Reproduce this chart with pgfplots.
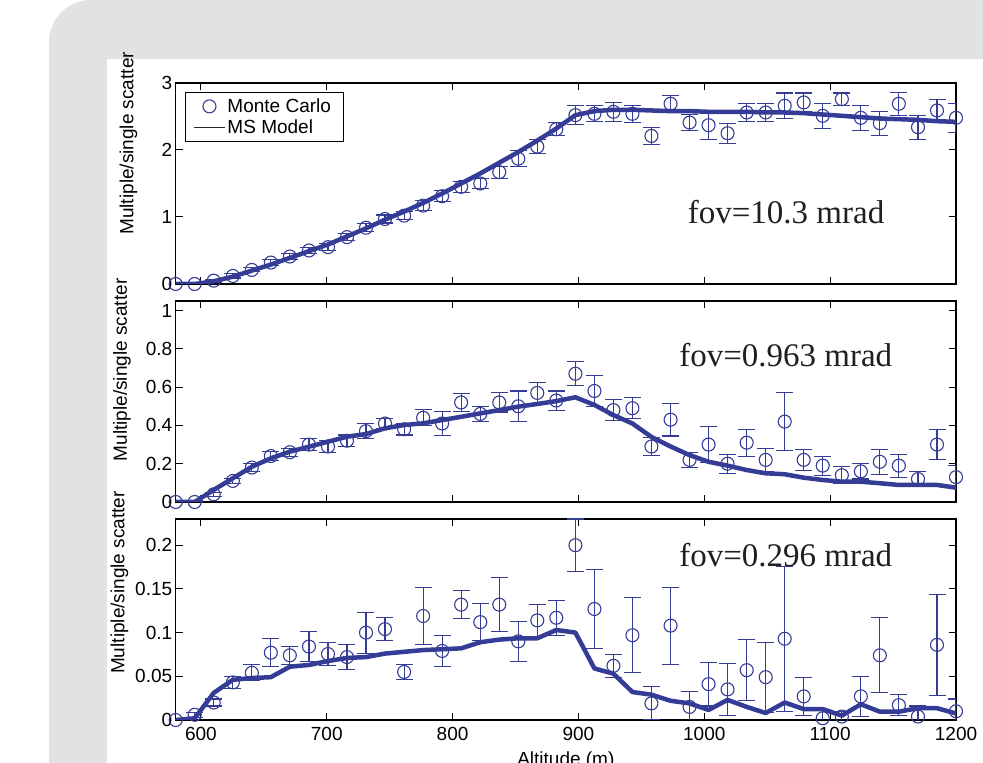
\documentclass[border=0pt]{standalone}
\usepackage{fontspec}
\setmainfont{Liberation Sans}
\newfontfamily\timesfont{Liberation Serif}
\usepackage{pgfplots}
\usepackage{pgfplotstable}
\pgfplotsset{compat=1.18}
\definecolor{msblue}{RGB}{52,60,150}
\definecolor{bggray}{RGB}{225,226,228}
\definecolor{fovtext}{RGB}{35,31,32}

\pgfplotstableread{
x y ey m
580.0 0 0 0
595.1 0 0.01 0
610.2 0.05 0.02 0.04
625.4 0.12 0.03 0.11
640.5 0.21 0.03 0.20
655.6 0.32 0.04 0.29
670.7 0.41 0.04 0.39
685.9 0.50 0.04 0.49
701.0 0.55 0.05 0.59
716.1 0.70 0.05 0.71
731.2 0.84 0.06 0.83
746.3 0.97 0.06 0.96
761.5 1.02 0.06 1.08
776.6 1.17 0.07 1.21
791.7 1.31 0.08 1.35
806.8 1.45 0.08 1.50
822.0 1.50 0.07 1.65
837.1 1.67 0.09 1.81
852.2 1.87 0.12 1.97
867.3 2.05 0.10 2.14
882.4 2.31 0.10 2.32
897.6 2.52 0.14 2.52
912.7 2.54 0.12 2.58
927.8 2.57 0.14 2.60
942.9 2.54 0.13 2.60
958.0 2.21 0.13 2.59
973.2 2.69 0.13 2.58
988.3 2.41 0.12 2.58
1003.4 2.37 0.22 2.57
1018.5 2.25 0.15 2.57
1033.7 2.56 0.14 2.57
1048.8 2.56 0.14 2.56
1063.9 2.66 0.19 2.56
1079.0 2.71 0.14 2.55
1094.1 2.51 0.19 2.53
1109.3 2.76 0.09 2.51
1124.4 2.48 0.19 2.49
1139.5 2.40 0.18 2.47
1154.6 2.69 0.17 2.46
1169.8 2.34 0.18 2.45
1184.9 2.59 0.17 2.43
1200.0 2.48 0.22 2.42
}\topdata

\pgfplotstableread{
x y ey m
580.0 0 0 0
595.1 0 0.005 0
610.2 0.04 0.01 0.063
625.4 0.11 0.013 0.124
640.5 0.18 0.02 0.184
655.6 0.24 0.025 0.228
670.7 0.26 0.02 0.263
685.9 0.30 0.03 0.289
701.0 0.29 0.03 0.315
716.1 0.32 0.03 0.341
731.2 0.37 0.04 0.355
746.3 0.41 0.026 0.385
761.5 0.38 0.03 0.402
776.6 0.44 0.042 0.411
791.7 0.41 0.063 0.428
806.8 0.52 0.045 0.445
822.0 0.46 0.04 0.463
837.1 0.52 0.05 0.480
852.2 0.50 0.08 0.498
867.3 0.57 0.055 0.512
882.4 0.53 0.05 0.527
897.6 0.67 0.063 0.547
912.7 0.58 0.08 0.507
927.8 0.48 0.055 0.454
942.9 0.49 0.055 0.410
958.0 0.29 0.045 0.340
973.2 0.43 0.085 0.290
988.3 0.22 0.04 0.245
1003.4 0.30 0.095 0.210
1018.5 0.20 0.05 0.190
1033.7 0.31 0.07 0.167
1048.8 0.22 0.06 0.150
1063.9 0.42 0.15 0.145
1079.0 0.22 0.055 0.127
1094.1 0.19 0.05 0.115
1109.3 0.14 0.045 0.106
1124.4 0.16 0.04 0.106
1139.5 0.21 0.065 0.098
1154.6 0.19 0.06 0.089
1169.8 0.12 0.04 0.089
1184.9 0.30 0.08 0.089
1200.0 0.13 0.06 0.075
}\middata

\pgfplotstableread{
x y ey m
580.0 0 0 0
595.1 0.006 0.003 0.002
610.2 0.020 0.004 0.031
625.4 0.043 0.0065 0.046
640.5 0.054 0.009 0.048
655.6 0.077 0.016 0.049
670.7 0.074 0.010 0.061
685.9 0.084 0.0175 0.063
701.0 0.0755 0.013 0.0675
716.1 0.072 0.014 0.071
731.2 0.100 0.0235 0.072
746.3 0.104 0.013 0.076
761.5 0.055 0.009 0.078
776.6 0.119 0.033 0.080
791.7 0.079 0.018 0.081
806.8 0.132 0.016 0.082
822.0 0.112 0.021 0.089
837.1 0.132 0.031 0.092
852.2 0.090 0.023 0.0935
867.3 0.114 0.018 0.0935
882.4 0.117 0.020 0.103
897.6 0.200 0.03 0.100
912.7 0.127 0.045 0.059
927.8 0.062 0.013 0.053
942.9 0.097 0.043 0.032
958.0 0.019 0.019 0.029
973.2 0.108 0.044 0.022
988.3 0.015 0.018 0.019
1003.4 0.041 0.025 0.0115
1018.5 0.035 0.030 0.023
1033.7 0.057 0.035 0.015
1048.8 0.049 0.040 0.008
1063.9 0.093 0.083 0.020
1079.0 0.027 0.022 0.0125
1094.1 0.002 0.010 0.0125
1109.3 0.004 0.006 0.005
1124.4 0.027 0.023 0.018
1139.5 0.074 0.043 0.0095
1154.6 0.017 0.012 0.0095
1169.8 0.004 0.012 0.0135
1184.9 0.086 0.058 0.0135
1200.0 0.010 0.014 0.0075
}\botdata

\pgfplotsset{
  panel/.style={
    scale only axis, width=780.3pt, height=201pt,
    xmin=580, xmax=1200, xtick={600,700,800,900,1000,1100,1200},
    tick align=inside, tick pos=both, major tick length=7pt,
    axis line style={line width=1.2pt},
    every tick/.style={black, line width=1pt},
    clip mode=individual,
    tick label style={font=\fontsize{19}{21}\selectfont},
    /pgf/number format/assume math mode=true,
    /pgf/number format/1000 sep={},
    yticklabel style={/pgf/number format/fixed},
    xticklabel style={yshift=-4pt},
    label style={font=\fontsize{19}{21}\selectfont},
    ylabel={Multiple/single scatter},
  },
  mc/.style={only marks, mark=o, color=msblue, mark size=6.5pt,
    mark options={line width=1.1pt},
    error bars/y dir=both, error bars/y explicit,
    error bars/error bar style={line width=1.1pt, msblue},
    error bars/error mark options={msblue, line width=1.1pt, mark size=8.5pt, rotate=90}},
  model/.style={msblue, line width=4.5pt, line join=round, no marks},
}

\begin{document}
\begin{tikzpicture}
\useasboundingbox (0pt,0pt) rectangle (983pt,763pt);
\clip (0pt,0pt) rectangle (983pt,763pt);
\fill[bggray, rounded corners=42pt] (49pt,-60pt) -- (49pt,763pt) -- (1050pt,763pt) -- (1050pt,-60pt) -- cycle;
\fill[white] (107pt,-10pt) rectangle (1000pt,704pt);

% top panel
\begin{axis}[panel, at={(175.7pt,479pt)}, anchor=south west,
  ymin=0, ymax=3, ytick={0,1,2,3}, xticklabels={},
  ylabel style={at={(axis description cs:-0.0605,0.70)}, anchor=center, rotate=0},
  legend style={at={(axis description cs:0.0119,0.954)}, anchor=north west,
    draw=black, line width=1pt, fill=white,
    font=\fontsize{19}{21}\selectfont, legend cell align=left,
    inner xsep=8pt, inner ysep=4pt, row sep=2pt},
]
\addlegendimage{legend image code/.code={\draw[msblue, line width=1.1pt] (15.5pt,0pt) circle (6.5pt);\path (0pt,0pt) (31pt,0pt);}}
\addlegendimage{legend image code/.code={\draw[black!85, line width=0.9pt] (0pt,0pt) -- (31pt,0pt);}}
\addplot[forget plot, mc] table[x=x, y=y, y error=ey] {\topdata};
\addplot[forget plot, model] table[x=x, y=m] {\topdata};
\node[anchor=base west, font=\timesfont\fontsize{33}{35}\selectfont, text=fovtext, inner sep=0pt] at (axis cs:986.8,0.91) {fov=10.3 mrad};
\legend{Monte Carlo\hspace*{3pt}, MS Model}
\end{axis}

% middle panel
\begin{axis}[panel, at={(175.7pt,261pt)}, anchor=south west,
  ymin=0, ymax=1.05, ytick={0,0.2,0.4,0.6,0.8,1}, xticklabels={},
  ylabel style={at={(axis description cs:-0.069,0.657)}, anchor=center, rotate=0},
]
\addplot[mc] table[x=x, y=y, y error=ey] {\middata};
\addplot[model] table[x=x, y=m] {\middata};
\node[anchor=base west, font=\timesfont\fontsize{33}{35}\selectfont, text=fovtext, inner sep=0pt] at (axis cs:980,0.707) {fov=0.963 mrad};
\end{axis}

% bottom panel
\begin{axis}[panel, at={(175.7pt,43pt)}, anchor=south west,
  ymin=0, ymax=0.23, ytick={0,0.05,0.1,0.15,0.2},
  ylabel style={at={(axis description cs:-0.072,0.684)}, anchor=center, rotate=0},
  xlabel={Altitude (m)}, xlabel style={yshift=-4pt},
]
\addplot[mc] table[x=x, y=y, y error=ey] {\botdata};
\addplot[model] table[x=x, y=m] {\botdata};
\node[anchor=base west, font=\timesfont\fontsize{33}{35}\selectfont, text=fovtext, inner sep=0pt] at (axis cs:980,0.176) {fov=0.296 mrad};
\end{axis}
\end{tikzpicture}
\end{document}
